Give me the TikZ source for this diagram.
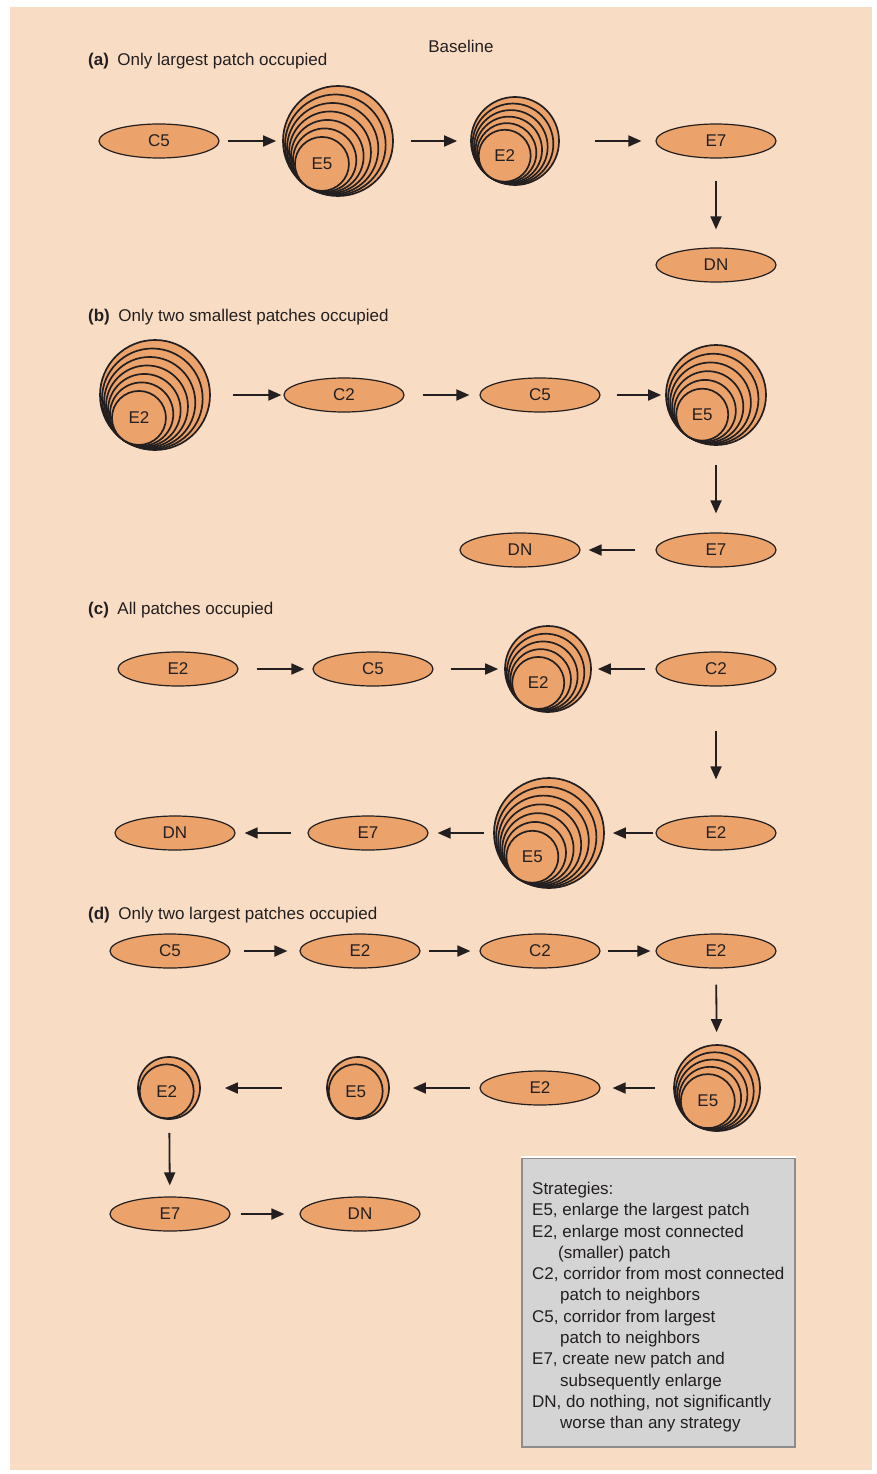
\documentclass[tikz,border=0pt]{standalone}
\usepackage{fontspec}
\setmainfont{Liberation Sans}
\usetikzlibrary{arrows.meta,shapes.geometric,calc}
\definecolor{bgpeach}{RGB}{249,220,196}
\definecolor{patchfill}{RGB}{236,163,107}
\definecolor{keygray}{RGB}{212,212,212}
\definecolor{ink}{RGB}{35,31,32}
\tikzset{
  strat/.style={draw=ink, ellipse, line width=1.2pt, fill=patchfill, minimum width=120pt, minimum height=34pt, inner sep=0pt},
  ring/.style={draw=ink, circle, line width=1.7pt, fill=patchfill, inner sep=0pt},
  arrow/.style={-{Triangle[length=13pt,width=11pt]}, line width=1.8pt, draw=ink},
  gap/.style 2 args={shorten <=#1pt, shorten >=#2pt},
  caption/.style={anchor=west, inner sep=0pt},
  keybox/.style={draw=black!45, line width=1.6pt, fill=keygray, align=left, inner xsep=10pt, minimum width=273pt, minimum height=289pt}
}
\newcommand{\patchstack}[6]{%
  \node[ring, minimum size={2*#3pt}] (#1) at #2 {};
  \pgfmathtruncatemacro\lastring{#5-1}
  \foreach \k in {1,...,\lastring}{
    \pgfmathsetmacro\rr{#3-\k*(#3-#4)/(#5-1)}
    \pgfmathsetmacro\dd{2*\rr}
    \node[ring, minimum size=\dd pt] (#1-\k) at ($#2+(125:{#3-\rr})$) {};
  }
  \node (#1-lbl) at ($#2+(125:{#3-#4})$) {#6};
}

\begin{document}
\begin{tikzpicture}[x=1pt,y=-1pt, every node/.style={font=\fontsize{17}{21.3}\selectfont, text=ink}]
  \useasboundingbox (0,0) rectangle (876,1474);
  \fill[bgpeach] (10,7) rectangle (872,1470);

  \node (base) at (461,46) {Baseline};
  \node[caption] (capa) at (88,61) {\textbf{(a)}\enspace Only largest patch occupied};
  \node[strat] (a1) at (159,141) {C5};
  \patchstack{a2}{(338,141)}{55}{27}{7}{E5}
  \patchstack{a3}{(515,141)}{44}{26}{6}{E2}
  \node[strat] (a4) at (716,141) {E7};
  \node[strat] (a5) at (716,265) {DN};
  \draw[arrow, gap={8}{6}] (a1) -- (a2);
  \draw[arrow, gap={17}{13}] (a2) -- (a3);
  \draw[arrow, gap={35}{14}] (a3) -- (a4);
  \draw[arrow, gap={22}{18}] (a4) -- (a5);

  \node[caption] (capb) at (88,317) {\textbf{(b)}\enspace Only two smallest patches occupied};
  \patchstack{b1}{(155,395)}{55}{27}{7}{E2}
  \node[strat] (b2) at (344,395) {C2};
  \node[strat] (b3) at (540,395) {C5};
  \patchstack{b4}{(716,395)}{50}{26}{6}{E5}
  \node[strat] (b5) at (716,550) {E7};
  \node[strat] (b6) at (520,550) {DN};
  \draw[arrow, gap={22}{2}] (b1) -- (b2);
  \draw[arrow, gap={18}{10}] (b2) -- (b3);
  \draw[arrow, gap={16}{4}] (b3) -- (b4);
  \draw[arrow, gap={19}{19}] (b4) -- (b5);
  \draw[arrow, gap={20}{8}] (b5) -- (b6);

  \node[caption] (capc) at (88,610) {\textbf{(c)}\enspace All patches occupied};
  \node[strat] (c1) at (178,669) {E2};
  \node[strat] (c2) at (373,669) {C5};
  \patchstack{c3}{(548,669)}{43}{26}{5}{E2}
  \node[strat] (c4) at (716,669) {C2};
  \node[strat] (c5) at (716,833) {E2};
  \patchstack{c6}{(549,833)}{55}{26}{7}{E5}
  \node[strat] (c7) at (368,833) {E7};
  \node[strat] (c8) at (175,833) {DN};
  \draw[arrow, gap={18}{8}] (c1) -- (c2);
  \draw[arrow, gap={17}{6}] (c2) -- (c3);
  \draw[arrow, gap={10}{6}] (c4) -- (c3);
  \draw[arrow, gap={44}{36}] (c4) -- (c5);
  \draw[arrow, gap={2}{8}] (c5) -- (c6);
  \draw[arrow, gap={9}{9}] (c6) -- (c7);
  \draw[arrow, gap={16}{9}] (c7) -- (c8);

  \node[caption] (capd) at (88,915) {\textbf{(d)}\enspace Only two largest patches occupied};
  \node[strat] (d1) at (170,951) {C5};
  \node[strat] (d2) at (360,951) {E2};
  \node[strat] (d3) at (540,951) {C2};
  \node[strat] (d4) at (716,951) {E2};
  \patchstack{d5}{(717,1088)}{43}{27}{5}{E5}
  \node[strat] (d6) at (540,1088) {E2};
  \patchstack{d7}{(358,1088)}{31}{27}{2}{E5}
  \patchstack{d8}{(169,1088)}{31}{27}{2}{E2}
  \node[strat] (d9) at (170,1214) {E7};
  \node[strat] (d10) at (360,1214) {DN};
  \draw[arrow, gap={13}{12}] (d1) -- (d2);
  \draw[arrow, gap={8}{9}] (d2) -- (d3);
  \draw[arrow, gap={7}{5}] (d3) -- (d4);
  \draw[arrow, gap={16}{12}] (d4) -- (d5);
  \draw[arrow, gap={18}{12}] (d5) -- (d6);
  \draw[arrow, gap={9}{23}] (d6) -- (d7);
  \draw[arrow, gap={44}{24}] (d7) -- (d8);
  \draw[arrow, gap={13}{11}] (d8) -- (d9);
  \draw[arrow, gap={10}{15}] (d9) -- (d10);

  \node[keybox, anchor=north west] (key) at (521,1157) {\rule{0pt}{22pt}Strategies:\\
    E5, enlarge the largest patch\\
    E2, enlarge most connected\\
    \hspace*{26pt}(smaller) patch\\
    C2, corridor from most connected\\
    \hspace*{28pt}patch to neighbors\\
    C5, corridor from largest\\
    \hspace*{28pt}patch to neighbors\\
    E7, create new patch and\\
    \hspace*{28pt}subsequently enlarge\\
    DN, do nothing, not significantly\\
    \hspace*{28pt}worse than any strategy};
  \draw[white, line width=1.6pt] (key.north west) -- (key.north east);
\end{tikzpicture}
\end{document}
